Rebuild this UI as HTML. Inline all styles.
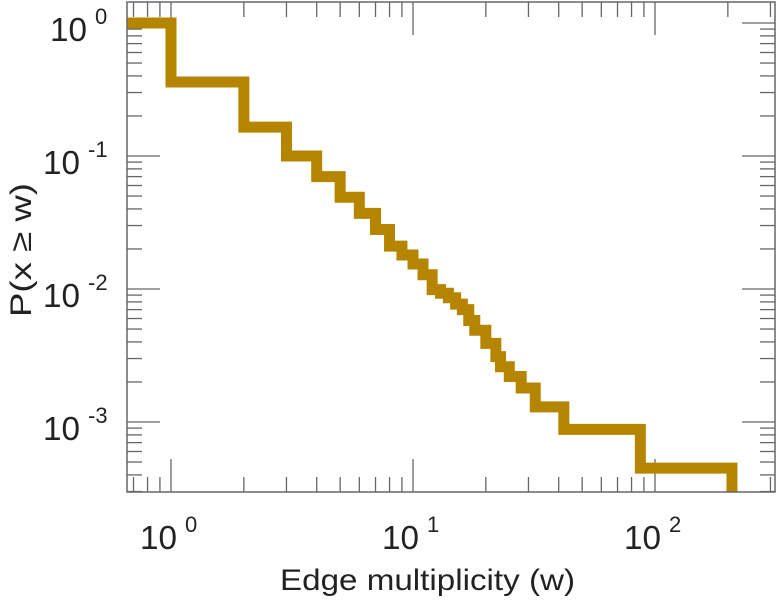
<!DOCTYPE html>
<html><head><meta charset="utf-8"><style>
body{margin:0;background:#fff}
svg{display:block;font-family:"Liberation Sans","DejaVu Sans",sans-serif}
</style></head><body>
<svg id="chart" width="777" height="600" viewBox="0 0 777 600" xmlns="http://www.w3.org/2000/svg">
<g id="ticks"></g>
<path id="series" fill="none" stroke="#b58500" stroke-width="11" stroke-linejoin="miter" stroke-linecap="butt"/>
<rect x="127" y="2" width="648" height="490" fill="none" stroke="#666" stroke-width="1.5"/>
<g id="labels"></g>
<text x="280" y="590" font-size="30" textLength="295" lengthAdjust="spacingAndGlyphs" fill="#222">Edge multiplicity (w)</text>
<text transform="translate(31,317) rotate(-90)" font-size="30" textLength="134" lengthAdjust="spacingAndGlyphs" fill="#222">P(x ≥ w)</text>
</svg>
<script>
const thresholds=[1,2,3,4,5,6,7,8,9,10,11,12,13,14,15,16,17,18,20,22,23,25,28,32,42,87,208];
const levels=[0.36,0.165,0.1,0.07,0.049,0.037,0.028,0.021,0.018,0.0154,0.0128,0.0099,0.0093,0.0086,0.0077,0.007,0.0058,0.0049,0.0039,0.0031,0.0026,0.0022,0.0018,0.0013,0.00088,0.00045,0.0003];
const xTickExps=[0,1,2];
const yTickExps=[0,-1,-2,-3];
const X0=171,XD=242,Y0=23,YD=133,L=127,R=775,T=2,B=492;
function xs(v){return X0+Math.log10(v)*XD;}
function ys(v){return Y0-Math.log10(v)*YD;}
const NS="http://www.w3.org/2000/svg";
let d="M"+L+","+ys(1);
let prev=1;
for(let i=0;i<thresholds.length;i++){
  const x=xs(thresholds[i]);
  d+=" L"+x+","+ys(prev);
  const lv=(i===thresholds.length-1)?null:levels[i];
  if(lv===null){d+=" L"+x+","+B;}else{d+=" L"+x+","+ys(lv);prev=lv;}
}
document.getElementById('series').setAttribute('d',d);
const tg=document.getElementById('ticks');
function line(x1,y1,x2,y2){const l=document.createElementNS(NS,'line');
l.setAttribute('x1',x1);l.setAttribute('y1',y1);l.setAttribute('x2',x2);l.setAttribute('y2',y2);
l.setAttribute('stroke','#666');l.setAttribute('stroke-width','1.3');


tg.appendChild(l);}
for(let e=-1;e<=3;e++){for(let m=1;m<10;m++){const v=m*Math.pow(10,e);const x=xs(v);
 if(x<L||x>R)continue;const len=m===1?33:15;line(x,B,x,B-len);line(x,T,x,T+len);}}
for(let e=-4;e<=1;e++){for(let m=1;m<10;m++){const v=m*Math.pow(10,e);const y=ys(v);
 if(y<T||y>B)continue;const len=m===1?33:15;line(L,y,L+len,y);line(R,y,R-len,y);}}
const lg=document.getElementById('labels');
function lab(x,y,exp,name){
 const t=document.createElementNS(NS,'text');
 t.setAttribute('x',x);t.setAttribute('y',y);t.setAttribute('font-size','33');t.setAttribute('fill','#222');
 t.setAttribute('textLength','37');t.setAttribute('lengthAdjust','spacingAndGlyphs');
 
 
 t.textContent='10';lg.appendChild(t);
 const s=document.createElementNS(NS,'text');
 s.setAttribute('x',x+45);s.setAttribute('y',y-17);s.setAttribute('font-size','22');s.setAttribute('fill','#222');
 
 
 s.textContent=exp;lg.appendChild(s);}
xTickExps.forEach(e=>lab(xs(Math.pow(10,e))-31,549,String(e),'x-tick-label'));
yTickExps.forEach(e=>lab(e<0?43:50,ys(Math.pow(10,e))+18,e<0?'-'+Math.abs(e):String(e),'y-tick-label'));
</script>
</body></html>
